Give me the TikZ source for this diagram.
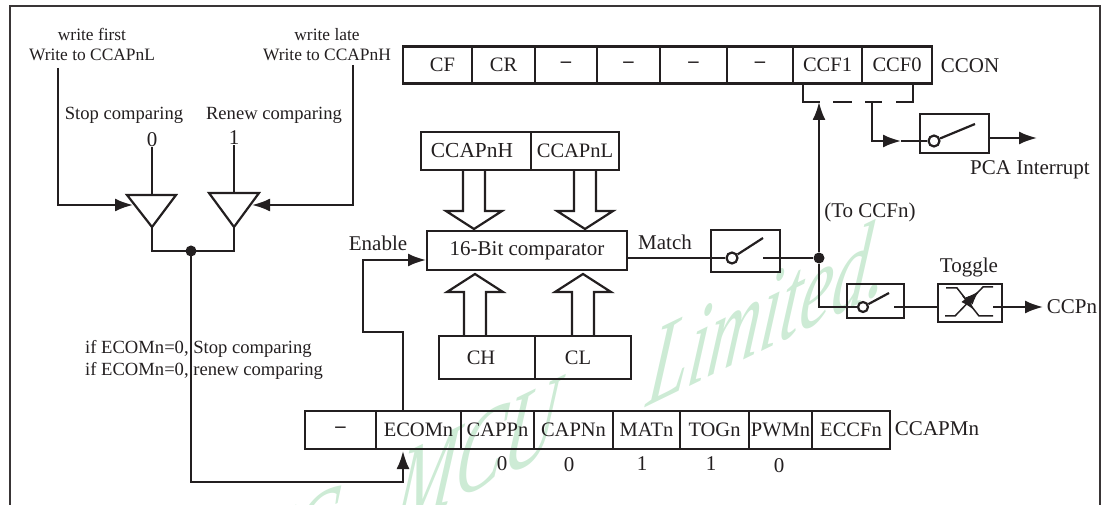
\documentclass[tikz,border=0pt]{standalone}
\usepackage{fontspec}
\setmainfont{Liberation Serif}
\usepackage{xcolor}
\usetikzlibrary{arrows.meta}
\definecolor{ink}{HTML}{231F20}
\definecolor{markgreen}{HTML}{CDEBD5}
\tikzset{
  wire/.style={draw=ink, line width=2.2pt},
  flow/.style={wire, -{Latex[length=18pt, width=13pt]}},
  thinflow/.style={draw=ink, line width=1.5pt, -{Latex[length=14pt, width=10pt]}},
  cell/.style={draw=ink, line width=2.2pt, inner sep=0pt, minimum height=#1, text=ink, font=\fontsize{20.5}{24}\selectfont},
  cell/.default=37pt,
  swbox/.style={draw=ink, line width=2.4pt, inner sep=0pt},
  pin/.style={circle, draw=ink, line width=2.2pt, fill=white, inner sep=0pt, minimum size=11pt},
  dot/.style={circle, fill=ink, inner sep=0pt, minimum size=11pt},
  big/.style={text=ink, inner sep=0pt, font=\fontsize{21}{24}\selectfont},
  mid/.style={text=ink, inner sep=0pt, font=\fontsize{18.6}{22}\selectfont},
  small/.style={text=ink, inner sep=0pt, font=\fontsize{17.4}{20}\selectfont},
  pics/busarrow/.style={code={
      \draw[wire] (-11,-#1) -- (-11,-18) -- (-28,-18) -- (0,0) -- (28,-18) -- (11,-18) -- (11,-#1);}},
}
\begin{document}
\begin{tikzpicture}[x=1pt, y=-1pt]
  \useasboundingbox (0,0) rectangle (1104,505);
  \clip (0,0) rectangle (1104,505);
  % watermark
  \node[text=markgreen, anchor=base east, inner sep=0pt, cm={.72,.35,.152,1.177,(884,292)}, transform shape,
        font=\fontsize{100}{110}\selectfont\itshape] (mark) at (0,0) {STC\hspace{60pt} MCU\hspace{105pt} Limited.};
  % frame
  \draw[draw=ink!90, line width=2.6pt] (10,505) -- (10,6) -- (1100,6) -- (1100,505);

  % CCON register
  \node[cell, minimum width=69pt] (cf) at (437.5,65) {\hspace{10pt}CF};
  \node[cell, minimum width=63pt] (cr) at (503.5,65) {CR};
  \node[cell, minimum width=62pt] (cona) at (566,65) {\textbf{--}};
  \node[cell, minimum width=63pt] (conb) at (628.5,65) {\textbf{--}};
  \node[cell, minimum width=67pt] (conc) at (693.5,65) {\textbf{--}};
  \node[cell, minimum width=66pt] (cond) at (760,65) {\textbf{--}};
  \node[cell, minimum width=69pt] (ccfa) at (827.5,65) {CCF1};
  \node[cell, minimum width=70pt] (ccfb) at (897,65) {\raisebox{-1pt}{CCF0}};
  \node[big] (ccon) at (970,66) {CCON};

  % CCAPMn register
  \node[cell, minimum width=71pt, minimum height=38pt] (resv) at (340.5,430) {\textbf{--}};
  \node[cell, minimum width=85pt, minimum height=38pt] (ecom) at (418.5,430) {ECOMn};
  \node[cell, minimum width=73pt, minimum height=38pt] (capp) at (497.5,430) {CAPPn};
  \node[cell, minimum width=79pt, minimum height=38pt] (capn) at (573.5,430) {\raisebox{-3pt}{CAPNn}};
  \node[cell, minimum width=67pt, minimum height=38pt] (mat) at (646.5,430) {MATn};
  \node[cell, minimum width=69pt, minimum height=38pt] (tog) at (714.5,430) {TOGn};
  \node[cell, minimum width=63pt, minimum height=38pt] (pwm) at (780.5,430) {PWMn};
  \node[cell, minimum width=78pt, minimum height=38pt] (eccf) at (851,430) {ECCFn};
  \node[big] (ccapm) at (937,429) {CCAPMn};
  \node[big] (bitc) at (502,464) {0};
  \node[big] (bitd) at (569,465) {0};
  \node[big] (bite) at (642,464) {1};
  \node[big] (bitf) at (711,464) {1};
  \node[big] (bitg) at (779,466) {0};

  % comparator with its registers
  \node[cell=38pt, minimum width=110pt] (ccaph) at (476,151) {\fontsize{21.4}{24}\selectfont\hspace{-8pt}CCAPnH};
  \node[cell=38pt, minimum width=88pt] (ccapl) at (575,151) {CCAPnL};
  \node[cell=39pt, minimum width=200pt] (comp) at (527,250.5) {\fontsize{21}{24}\selectfont 16-Bit comparator};
  \node[cell=43pt, minimum width=96pt] (ch) at (487,357.5) {\hspace{-12pt}CH};
  \node[cell=43pt, minimum width=96pt] (cl) at (583,357.5) {\hspace{-10pt}CL};
  \pic at (474,229) {busarrow=59};
  \pic at (585,229) {busarrow=59};
  \pic[rotate=180] at (475,274) {busarrow=62};
  \pic[rotate=180] at (583,274) {busarrow=62};
  \node[big] (enable) at (378,243) {Enable};
  \node[big] (match) at (665,242) {Match};

  % left side: write selection
  \node[small, align=center] (first) at (92,45) {write first\\Write to CCAPnL};
  \node[small, align=center] (late) at (327,45) {write late\\Write to CCAPnH};
  \node[mid] (stop) at (124,115) {Stop comparing};
  \node[mid] (renew) at (274,115) {Renew comparing};
  \node[big] (zero) at (152,140) {0};
  \node[big] (one) at (234,138) {1};
  \draw[wire, line join=miter] (127,195) -- (176,195) -- (152,227) -- cycle;
  \draw[wire, line join=miter] (209,193) -- (259,193) -- (234,227) -- cycle;
  \coordinate (gatea) at (152,227);
  \coordinate (gateb) at (234,227);
  \node[dot] (join) at (191,251) {};
  \draw[wire] (zero.south) -- (152,195);
  \draw[wire] (one.south) -- (234,193);
  \draw[flow] (58,68) |- (133,205);
  \draw[flow] (353,65) |- (252,205);
  \draw[wire] (gatea) |- (join.center) -| (gateb);
  \node[mid, anchor=west] (ifstop) at (85,349) {if ECOMn=0, Stop comparing};
  \node[mid, anchor=west] (ifrenew) at (85,371) {if ECOMn=0, renew comparing};
  \coordinate (ecomin) at (403,451);
  \coordinate (ecomout) at (403,410);
  \draw[flow] (join.center) |- (403,482) -- (ecomin);
  \draw[flow] (ecomout) |- (363,332) |- (426,260);

  % match switch
  \node[swbox, minimum width=69pt, minimum height=42pt] (swm) at (745.5,251) {};
  \node[pin] (pinm) at (732,258) {};
  \node[dot] (hub) at (819,258) {};
  \coordinate (leverm) at (763,238);
  \coordinate (contm) at (763,258);
  \draw[wire] (comp.east |- pinm) -- (pinm);
  \draw[wire] (pinm) -- (leverm);
  \draw[wire] (contm) -- (hub);

  % flag bracket and interrupt switch
  \node[swbox, minimum width=69pt, minimum height=39pt] (swi) at (954.5,133.5) {};
  \node[pin] (pini) at (934,141) {};
  \coordinate (leveri) at (975,124);
  \coordinate (stemi) at (872,102);
  \coordinate (headi) at (901,141);
  \draw[wire] (803,83) -- (803,102) -- (820,102);
  \draw[wire] (913,83) -- (913,102) -- (896,102);
  \draw[wire] (833,102) -- (852,102);
  \draw[wire] (865,102) -- (882,102);
  \draw[flow] (hub) -- (819,102);
  \draw[flow] (stemi) |- (headi);
  \draw[wire] (headi) -- (pini);
  \draw[wire] (pini) -- (leveri);
  \draw[flow] (swi.east |- 0,138) -- (1037,138);
  \node[big] (pca) at (1030,170) {PCA Interrupt};
  \node[big] (toccf) at (870,212) {(To CCFn)};

  % output switch and toggle
  \node[swbox, line width=1.8pt, minimum width=57pt, minimum height=34pt] (swo) at (875.5,301) {};
  \node[pin, minimum size=10pt] (pino) at (863,307) {};
  \coordinate (levero) at (889,293);
  \coordinate (conto) at (894,307);
  \draw[wire] (hub) |- (pino);
  \draw[wire] (pino) -- (levero);
  \node[swbox, line width=2.8pt, minimum width=64pt, minimum height=38pt] (toggle) at (970,303) {};
  \node[big] (togglelab) at (969,267) {Toggle};
  \draw[wire] (conto) -- (toggle.west |- conto);
  \coordinate (toga) at (993,307);
  \draw[flow] (toga) -- (1043,307);
  \node[big] (ccpn) at (1072,307) {CCPn};
  \draw[draw=ink, line width=1.5pt] (945,316) -- (955,316) -- (983,287) -- (993,287);
  \draw[draw=ink, line width=1.5pt] (946,288) -- (957,288) -- (979,316) -- (993,316);
  \draw[thinflow] (966,304) -- (979,291);
  \draw[thinflow] (963,296) -- (974,310);
\end{tikzpicture}
\end{document}
